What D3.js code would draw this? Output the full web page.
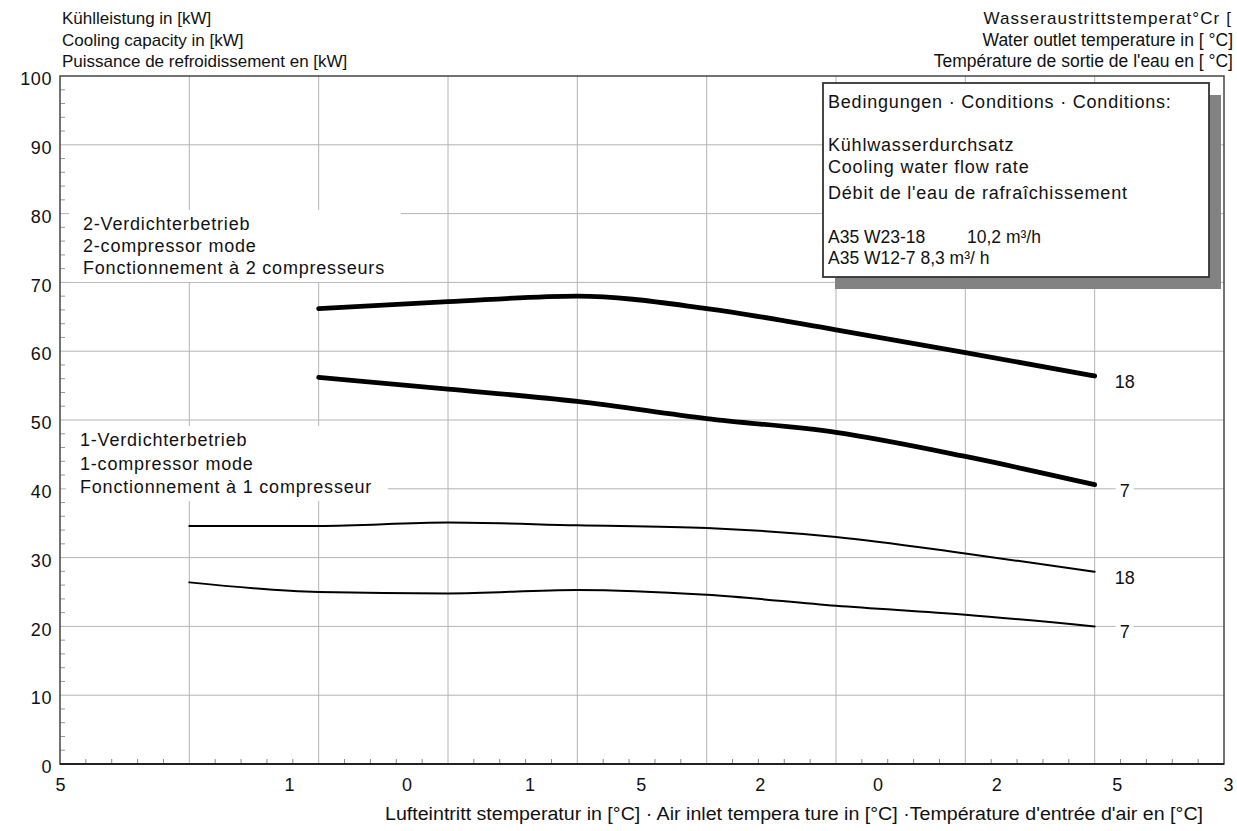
<!DOCTYPE html>
<html>
<head>
<meta charset="utf-8">
<script src="https://cdn.jsdelivr.net/npm/d3@7"></script>
<style>
html,body{margin:0;padding:0;background:#fff;}
svg{display:block;font-family:"Liberation Sans",Arial,sans-serif;}
</style>
</head>
<body>
<svg id="chart" width="1237" height="831"></svg>
<script>
// ---------- data ----------
const gridXValues = [0, 5, 10, 15, 20, 25, 30, 35, 40, 45];
const gridYValues = [0, 10, 20, 30, 40, 50, 60, 70, 80, 90, 100];
const minorYValues = d3.range(0, 100, 2);
const minorXValues = d3.range(0, 45, 1);
const xTickPositions = [0, 8.85, 13.4, 18.15, 22.45, 27.05, 31.6, 36.2, 40.85, 45.15];
const xTickLabels = ["5", "1", "0", "1", "5", "2", "0", "2", "5", "3"];

const xOne = [5, 10, 15, 20, 25, 30, 35, 40];
const xTwo = [10, 15, 20, 25, 30, 35, 40];
const twoComp18 = [66.2, 67.2, 68.0, 66.2, 63.1, 59.8, 56.4];
const twoComp7 = [56.2, 54.5, 52.7, 50.2, 48.2, 44.7, 40.6];
const oneComp18 = [34.6, 34.6, 35.1, 34.7, 34.3, 33.0, 30.6, 27.95];
const oneComp7 = [26.4, 25.0, 24.8, 25.3, 24.6, 23.0, 21.7, 20.0];
const endLabels = ["18", "7", "18", "7"];

const yTitleLines = ["Kühlleistung in [kW]", "Cooling capacity in [kW]", "Puissance de refroidissement en [kW]"];
const rightTitleFirst = "Wasseraustrittstemperat°Cr [";
const rightTitleLines = ["Water outlet temperature in [ °C]", "Température de sortie de l'eau en [ °C]"];
const twoCompText = ["2-Verdichterbetrieb", "2-compressor mode", "Fonctionnement à 2 compresseurs"];
const oneCompText = ["1-Verdichterbetrieb", "1-compressor mode", "Fonctionnement à 1 compresseur"];
const boxText = ["Bedingungen · Conditions · Conditions:", "", "Kühlwasserdurchsatz", "Cooling water flow rate", "Débit de l'eau de rafraîchissement"];
const boxFlowNames = ["A35 W23-18", "A35 W12-7 8,3 m³/ h"];
const boxFlowValue = "10,2 m³/h";
const xTitle = "Lufteintritt stemperatur in [°C] · Air inlet tempera ture in [°C] ·Température d'entrée d'air en [°C]";

// ---------- layout ----------
const svg = d3.select("#chart");
const x = d3.scaleLinear().domain([0, 45]).range([60, 1224]);
const y = d3.scaleLinear().domain([0, 100]).range([764, 76]);
const gridColor = "#b4b4b4";

// gridlines
svg.append("g").selectAll("line").data(gridYValues.slice(1, -1)).join("line")
  .attr("x1", x(0)).attr("x2", x(45)).attr("y1", d => y(d)).attr("y2", d => y(d))
  .attr("stroke", gridColor).attr("stroke-width", 1);
svg.append("g").selectAll("line").data(gridXValues.slice(1, -1)).join("line")
  .attr("x1", d => x(d)).attr("x2", d => x(d)).attr("y1", y(0)).attr("y2", y(100))
  .attr("stroke", gridColor).attr("stroke-width", 1);

// minor ticks
svg.append("g").selectAll("line").data(minorYValues.filter(d => d % 10 !== 0)).join("line")
  .attr("x1", x(0)).attr("x2", x(0) + 5).attr("y1", d => y(d)).attr("y2", d => y(d))
  .attr("stroke", "#999").attr("stroke-width", 1);
svg.append("g").selectAll("line").data(minorXValues.filter(d => d % 5 !== 0)).join("line")
  .attr("x1", d => x(d)).attr("x2", d => x(d)).attr("y1", y(0)).attr("y2", y(0) - 5)
  .attr("stroke", "#888").attr("stroke-width", 1);

// annotation blocks with white background
function textBlock(lines, x0, y0, dy, size, ls) {
  const g = svg.append("g");
  const bg = g.append("rect").attr("fill", "#fff");
  const t = g.append("text").attr("font-size", size).attr("letter-spacing", ls).attr("fill", "#111");
  lines.forEach((l, i) => t.append("tspan").attr("x", x0).attr("y", y0 + i * dy).text(l));
  const bb = t.node().getBBox();
  bg.attr("x", bb.x - 14).attr("y", bb.y - 4).attr("width", bb.width + 30).attr("height", bb.height + 8);
  return g;
}
textBlock(twoCompText, 83, 230, 22, 18, 0.8);
textBlock(oneCompText, 80, 446, 23.5, 18, 0.8);

// frame
svg.append("rect").attr("x", x(0)).attr("y", y(100)).attr("width", x(45) - x(0)).attr("height", y(0) - y(100))
  .attr("fill", "none").attr("stroke", "#444").attr("stroke-width", 1.5);
svg.append("line").attr("x1", x(0)).attr("x2", x(45)).attr("y1", y(0)).attr("y2", y(0))
  .attr("stroke", "#222").attr("stroke-width", 2.2);

// y axis labels
const yAxis = d3.axisLeft(y).tickValues(gridYValues).tickSize(0).tickPadding(8);
const ya = svg.append("g").attr("transform", `translate(${x(0)},3)`).call(yAxis);
ya.select(".domain").remove();
ya.selectAll("text").attr("font-size", 18).attr("letter-spacing", 0.6).attr("fill", "#111")
  .attr("font-family", "Liberation Sans, Arial, sans-serif");

// x axis labels
const xAxis = d3.axisBottom(x).tickValues(xTickPositions).tickFormat((d, i) => xTickLabels[i]).tickSize(0).tickPadding(14);
const xa = svg.append("g").attr("transform", `translate(0,${y(0)})`).call(xAxis);
xa.select(".domain").remove();
xa.selectAll("text").attr("font-size", 18).attr("fill", "#111")
  .attr("font-family", "Liberation Sans, Arial, sans-serif");

// curves
const line = d3.line().curve(d3.curveMonotoneX);
const series = [
  { xs: xTwo, ys: twoComp18, w: 4.8 },
  { xs: xTwo, ys: twoComp7, w: 4.8 },
  { xs: xOne, ys: oneComp18, w: 2 },
  { xs: xOne, ys: oneComp7, w: 2 }
];
series.forEach((s, i) => {
  const pts = s.xs.map((xv, j) => [x(xv), y(s.ys[j])]);
  svg.append("path").attr("d", line(pts)).attr("fill", "none").attr("stroke", "#000")
    .attr("stroke-width", s.w).attr("stroke-linecap", "round");
  const lx = x(s.xs[s.xs.length - 1]), ly = y(s.ys[s.ys.length - 1]);
  const g = svg.append("g");
  const bg = g.append("rect").attr("fill", "#fff");
  const t = g.append("text").attr("x", lx + 30).attr("y", ly + 12).attr("text-anchor", "middle")
    .attr("font-size", 18).attr("fill", "#111").text(endLabels[i]);
  const bb = t.node().getBBox();
  bg.attr("x", bb.x - 4).attr("y", bb.y + 2).attr("width", bb.width + 8).attr("height", bb.height - 4);
});

// conditions box
const bx = 823, by = 83, bw = 386, bh = 194;
svg.append("rect").attr("x", bx + 12).attr("y", by + 12).attr("width", bw).attr("height", bh).attr("fill", "#828282");
svg.append("rect").attr("x", bx).attr("y", by).attr("width", bw).attr("height", bh)
  .attr("fill", "#fff").attr("stroke", "#333").attr("stroke-width", 1.8);
const bt = svg.append("text").attr("font-size", 18).attr("letter-spacing", 0.8).attr("fill", "#111");
const boxDy = [0, 0, 43, 22, 26];
let cy = by + 25;
boxText.forEach((l, i) => {
  cy += boxDy[i];
  if (l) bt.append("tspan").attr("x", bx + 5).attr("y", cy).text(l);
});
const ft = svg.append("text").attr("font-size", 17.5).attr("fill", "#111");
ft.append("tspan").attr("x", bx + 5).attr("y", cy + 44).text(boxFlowNames[0]);
ft.append("tspan").attr("x", bx + 144).attr("y", cy + 44).text(boxFlowValue);
ft.append("tspan").attr("x", bx + 5).attr("y", cy + 65).text(boxFlowNames[1]);

// titles
const lt = svg.append("text").attr("font-size", 17).attr("fill", "#111");
yTitleLines.forEach((l, i) => lt.append("tspan").attr("x", 62).attr("y", 24 + i * 21.5).text(l));

svg.append("text").attr("x", 1232).attr("y", 24).attr("font-size", 17).attr("letter-spacing", 1.1)
  .attr("fill", "#111").attr("text-anchor", "end").text(rightTitleFirst);
const rt = svg.append("text").attr("font-size", 17.5).attr("fill", "#111").attr("text-anchor", "end");
rightTitleLines.forEach((l, i) => rt.append("tspan").attr("x", 1233).attr("y", 45.5 + i * 21.5).text(l));

svg.append("text").attr("x", 385).attr("y", 820).attr("font-size", 18).attr("fill", "#111")
  .attr("textLength", 818).attr("lengthAdjust", "spacingAndGlyphs").text(xTitle);
</script>
</body>
</html>
